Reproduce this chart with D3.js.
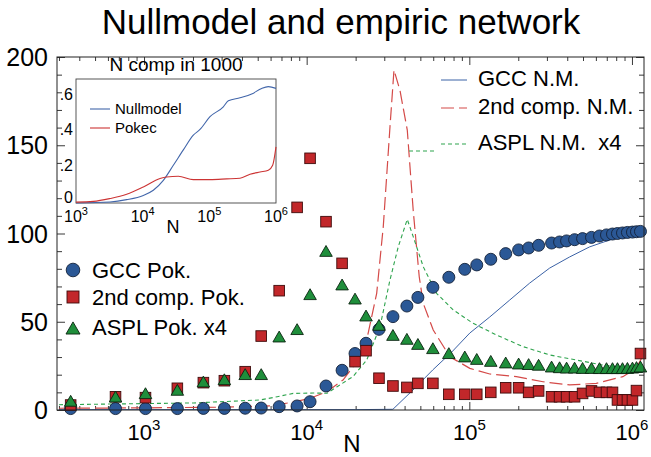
<!DOCTYPE html>
<html><head><meta charset="utf-8">
<script src="https://cdn.jsdelivr.net/npm/d3@7"></script>
<style>
body{margin:0;background:#fff;}
text{font-family:"Liberation Sans",Arial,Helvetica,sans-serif;fill:#000;}
</style></head><body>
<svg id="chart" width="651" height="457"></svg>
<script>
// Network sizes at which the Pokec snapshots were measured
const N = [354, 668, 1021, 1603, 2317, 3119, 4188, 5254, 6776, 8734, 10493, 13150, 16510, 19830,
  23170, 27840, 33920, 41320, 48290, 59700, 74840, 93800, 111100, 135500, 167400, 201000, 231600,
  266700, 320500, 358900, 396300, 443900, 497000, 563800, 631700, 697300, 759100, 814500, 874700,
  937800, 1007000, 1066000, 1128000];
const gccPok = [0.8, 0.8, 0.8, 0.8, 0.9, 0.9, 1, 1.1, 1.9, 2.3, 4.7, 13.6, 22.5, 32, 37.8, 45.7, 52.9,
  58.9, 63.8, 69.5, 75.2, 79.7, 82.2, 85.4, 88.6, 90.7, 91.8, 93.3, 94.6, 95.2, 95.8, 96.5, 97.1, 97.8,
  98.6, 99.2, 99.7, 100, 100.3, 100.6, 100.8, 101, 101.2];
const secondPok = [2.8, 7.5, 7, 12.3, 15.5, 16.6, 21.7, 41.9, 67.6, 114.8, 142.6, 106.7, 83.1, 27.4,
  33.6, 18, 13.6, 12.8, 15.1, 15.1, 8.9, 8.9, 8.9, 10, 12.6, 12.6, 10, 10.8, 7.5, 7.5, 7.5, 7.5, 9.4,
  10.8, 10, 10, 10, 5.7, 5.7, 5.7, 5.7, 11, 32];
const asplPok = [4.2, 6.6, 8.5, 10.4, 15.1, 16.4, 19.3, 19.3, 40.6, 44.8, 64.6, 89.1, 70.1, 62.1, 52.5,
  47.2, 41.5, 39.3, 36.4, 34, 31.2, 29.3, 27.9, 26.8, 25.9, 25.3, 25, 24.6, 23.6, 23.2, 23, 23, 22.8,
  22.8, 22.7, 22.7, 22.7, 22.7, 22.7, 22.8, 23, 23.3, 23.6];

// Null model curves
const gccNmN = [300, 1000, 10000, 20000, 33900, 45000, 59600, 78100, 100700, 133600, 177200, 235000,
  311700, 413500, 548500, 727600, 965000, 1159000];
const gccNm = [0.2, 0.2, 0.2, 0.2, 0.4, 11.3, 22.7, 32.9, 43.6, 52.7, 62.3, 71.9, 80.4, 86.7, 92.4,
  96.3, 99.2, 100.8];
const secondNmN = [300, 1000, 3000, 6000, 8280, 10490, 13340, 16730, 19290, 23400, 26950, 29580, 32530,
  34420, 37480, 41550, 45200, 49210, 52090, 60000, 75900, 100700, 133600, 194900, 283900, 413500,
  603300, 878800, 1062000, 1194000];
const secondNm = [1.0, 1.2, 1.6, 2.3, 4.5, 6.6, 10.4, 17, 24.5, 39.7, 66.1, 103.9, 160.5, 192.6, 181,
  158.6, 113, 75.5, 60.4, 45.3, 30.2, 23.6, 20.4, 18.9, 16, 14.2, 15.1, 18.9, 23.6, 32.5];
const asplNmN = [300, 2016, 5190, 6590, 8260, 10960, 13360, 15390, 19290, 23400, 28240, 32530, 36570,
  41550, 45200, 52090, 62930, 79600, 105500, 146800, 213900, 311700, 454500, 662500, 965000, 1194000];
const asplNm = [3.0, 4, 5.7, 7.5, 9.4, 9.6, 9.5, 13.2, 19, 28.3, 47.2, 73.7, 92.5, 108, 98.2, 81.2,
  66.1, 56.7, 49.1, 42.5, 35.9, 31.2, 28.3, 25.5, 23.6, 24.5];

// Inset: number of components (in thousands)
const insetNullN = [1000, 3236, 5754, 10230, 14450, 20420, 28840, 40740, 57540, 72440, 102300, 162200,
  192800, 288400, 431500, 609500, 767400, 1000000];
const insetNull = [0, 0.006, 0.019, 0.043, 0.072, 0.128, 0.213, 0.30, 0.383, 0.415, 0.487, 0.543,
  0.577, 0.594, 0.615, 0.647, 0.657, 0.647];
const insetPokN = [1000, 1820, 3236, 5754, 10230, 18200, 22910, 34280, 57540, 102300, 182000, 288400,
  407400, 575400, 767400, 891300, 1000000];
const insetPok = [0.005, 0.009, 0.025, 0.049, 0.09, 0.138, 0.147, 0.151, 0.132, 0.132, 0.136, 0.14,
  0.162, 0.175, 0.185, 0.213, 0.317];

const yTicks = [0, 50, 100, 150, 200];
const xTicks = [1e3, 1e4, 1e5, 1e6];
const insetYTicks = [0, 0.2, 0.4, 0.6];
const insetYLabels = ["0", ".2", ".4", ".6"];

const svg = d3.select("#chart");
const L = 57, R = 644, T = 57, B = 410;

const x = d3.scaleLog().domain([Math.pow(10, 2.465), Math.pow(10, 6.074)]).range([L, R]);
const y = d3.scaleLinear().domain([0, 200]).range([B, T]);

function minorLog(dom) {
  const out = [];
  for (let k = 2; k <= 6; k++) for (let m = 2; m <= 9; m++) {
    const v = m * Math.pow(10, k);
    if (v >= dom[0] && v <= dom[1]) out.push(v);
  }
  return out;
}
const xMinor = minorLog(x.domain());
const yMinor = d3.range(0, 201, 10).filter(v => v % 50 !== 0);

svg.append("text").attr("x", 341).attr("y", 34).attr("text-anchor", "middle")
  .style("font-size", "35px").text("Nullmodel and empiric network");

// clip region for the curves
svg.append("clipPath").attr("id", "plotclip").append("rect")
  .attr("x", L).attr("y", T).attr("width", R - L).attr("height", B - T);

// tick marks on all four sides, pointing inward
function ticks(axis, vals, size, tr) {
  const g = svg.append("g").attr("transform", tr)
    .call(axis.tickValues(vals).tickSize(size).tickFormat(() => ""));
  g.select(".domain").remove();
  g.selectAll(".tick line").attr("stroke", "#222").attr("stroke-width", 0.9);
  return g;
}
ticks(d3.axisBottom(x), xTicks, -8, `translate(0,${B})`);
ticks(d3.axisBottom(x), xMinor, -4, `translate(0,${B})`);
ticks(d3.axisTop(x), xTicks, -8, `translate(0,${T})`);
ticks(d3.axisTop(x), xMinor, -4, `translate(0,${T})`);
ticks(d3.axisLeft(y), yTicks, -8, `translate(${L},0)`);
ticks(d3.axisLeft(y), yMinor, -5, `translate(${L},0)`);
ticks(d3.axisRight(y), yTicks, -8, `translate(${R},0)`);
ticks(d3.axisRight(y), yMinor, -5, `translate(${R},0)`);

// tick labels
svg.append("g").selectAll("text").data(yTicks).join("text")
  .attr("x", L - 9).attr("y", d => y(d) + 9).attr("text-anchor", "end")
  .style("font-size", "25px").text(d => d);
const xl = svg.append("g").selectAll("text").data(xTicks).join("text")
  .attr("x", d => x(d)).attr("y", 440).attr("text-anchor", "middle").style("font-size", "22px");
xl.append("tspan").text("10");
xl.append("tspan").attr("dy", -10).style("font-size", "15px").text(d => Math.round(Math.log10(d)));
svg.append("text").attr("x", 352).attr("y", 452).attr("text-anchor", "middle")
  .style("font-size", "24px").text("N");

// null model curves
const curves = svg.append("g").attr("clip-path", "url(#plotclip)");
const line = d3.line().x(d => x(d[0])).y(d => y(d[1]));
curves.append("path").datum(d3.zip(gccNmN, gccNm)).attr("d", line)
  .attr("fill", "none").attr("stroke", "#3b62a6").attr("stroke-width", 1);
curves.append("path").datum(d3.zip(secondNmN, secondNm)).attr("d", line)
  .attr("fill", "none").attr("stroke", "#d44a48").attr("stroke-width", 1.2)
  .attr("stroke-dasharray", "13,5");
curves.append("path").datum(d3.zip(asplNmN, asplNm)).attr("d", line)
  .attr("fill", "none").attr("stroke", "#2fa44e").attr("stroke-width", 1.1)
  .attr("stroke-dasharray", "4,3");

// Pokec measurements
const cFill = "#2b5896", cStroke = "#14233a";
const sFill = "#c2272a", sStroke = "#3e0c0c";
const tFill = "#1f8e3b", tStroke = "#0a2410";
const tri = d3.symbol(d3.symbolTriangle).size(68);

svg.append("g").selectAll("circle").data(d3.zip(N, gccPok)).join("circle")
  .attr("cx", d => x(d[0])).attr("cy", d => y(d[1])).attr("r", 6)
  .attr("fill", cFill).attr("stroke", cStroke).attr("stroke-width", 0.9);
svg.append("g").selectAll("rect").data(d3.zip(N, secondPok)).join("rect")
  .attr("x", d => x(d[0]) - 5.3).attr("y", d => y(d[1]) - 5.3).attr("width", 10.6).attr("height", 10.6)
  .attr("fill", sFill).attr("stroke", sStroke).attr("stroke-width", 0.9);
svg.append("g").selectAll("path").data(d3.zip(N, asplPok)).join("path")
  .attr("transform", d => `translate(${x(d[0])},${y(d[1])})`).attr("d", tri)
  .attr("fill", tFill).attr("stroke", tStroke).attr("stroke-width", 0.9);

// frame
svg.append("rect").attr("x", L).attr("y", T).attr("width", R - L).attr("height", B - T)
  .attr("fill", "none").attr("stroke", "#222").attr("stroke-width", 1);

// legend for the null model curves
const lg = svg.append("g").style("font-size", "22px");
const legRows = [
  {label: "GCC N.M.", y: 78, color: "#3b62a6", dash: null, w: 1},
  {label: "2nd comp. N.M.", y: 106, color: "#d44a48", dash: "13,5", w: 1.2},
  {label: "ASPL N.M.  x4", y: 142, color: "#2fa44e", dash: "4,3", w: 1.1}
];
legRows.forEach(r => {
  lg.append("line").attr("x1", 441).attr("x2", 467).attr("y1", r.y + 2).attr("y2", r.y + 2)
    .attr("stroke", r.color).attr("stroke-width", r.w).attr("stroke-dasharray", r.dash);
  lg.append("text").attr("x", 478).attr("y", r.y + 8).style("white-space", "pre").text(r.label);
});
lg.append("line").attr("x1", 409).attr("x2", 436).attr("y1", 151).attr("y2", 151)
  .attr("stroke", "#2fa44e").attr("stroke-width", 1.1).attr("stroke-dasharray", "4,3");

// legend for the Pokec markers
const pl = svg.append("g").style("font-size", "22px");
pl.append("circle").attr("cx", 73).attr("cy", 270).attr("r", 6.8)
  .attr("fill", cFill).attr("stroke", cStroke).attr("stroke-width", 0.9);
pl.append("rect").attr("x", 67).attr("y", 291).attr("width", 12).attr("height", 12)
  .attr("fill", sFill).attr("stroke", sStroke).attr("stroke-width", 0.9);
pl.append("path").attr("transform", "translate(73,330)").attr("d", d3.symbol(d3.symbolTriangle).size(85))
  .attr("fill", tFill).attr("stroke", tStroke).attr("stroke-width", 0.9);
pl.append("text").attr("x", 92).attr("y", 278).text("GCC Pok.");
pl.append("text").attr("x", 92).attr("y", 305).text("2nd comp. Pok.");
pl.append("text").attr("x", 92).attr("y", 335).text("ASPL Pok. x4");

// inset
const xi = d3.scaleLog().domain([1e3, 1e6]).range([76, 276]);
const yi = d3.scaleLinear().domain([0, 0.7]).range([203, 79]);
const ins = svg.append("g");
ins.append("rect").attr("x", 76).attr("y", 79).attr("width", 200).attr("height", 124)
  .attr("fill", "#fff").attr("stroke", "#444").attr("stroke-width", 0.9);
ins.append("text").attr("x", 176).attr("y", 71).attr("text-anchor", "middle")
  .style("font-size", "19px").text("N comp in 1000");
const il = d3.line().x(d => xi(d[0])).y(d => yi(d[1])).curve(d3.curveMonotoneX);
ins.append("path").datum(d3.zip(insetNullN, insetNull)).attr("d", il)
  .attr("fill", "none").attr("stroke", "#4266aa").attr("stroke-width", 1.1);
ins.append("path").datum(d3.zip(insetPokN, insetPok)).attr("d", il)
  .attr("fill", "none").attr("stroke", "#cc3434").attr("stroke-width", 1.1);
ins.append("line").attr("x1", 90).attr("x2", 110).attr("y1", 109).attr("y2", 109)
  .attr("stroke", "#4266aa").attr("stroke-width", 1.1);
ins.append("line").attr("x1", 90).attr("x2", 110).attr("y1", 128).attr("y2", 128)
  .attr("stroke", "#cc3434").attr("stroke-width", 1.1);
ins.append("text").attr("x", 115).attr("y", 114).style("font-size", "15px").text("Nullmodel");
ins.append("text").attr("x", 115).attr("y", 133).style("font-size", "15px").text("Pokec");
ins.append("g").selectAll("text").data(insetYTicks).join("text")
  .attr("x", 73).attr("y", d => yi(d) + (d === 0 ? 0 : 3)).attr("text-anchor", "end")
  .style("font-size", "16px").text((d, i) => insetYLabels[i]);
const ixl = ins.append("g").selectAll("text").data(xTicks).join("text")
  .attr("x", d => xi(d)).attr("y", 222).attr("text-anchor", "middle").style("font-size", "16px");
ixl.append("tspan").text("10");
ixl.append("tspan").attr("dy", -7).style("font-size", "11px").text(d => Math.round(Math.log10(d)));
ins.append("text").attr("x", 173).attr("y", 233).attr("text-anchor", "middle")
  .style("font-size", "18px").text("N");
</script>
</body></html>
